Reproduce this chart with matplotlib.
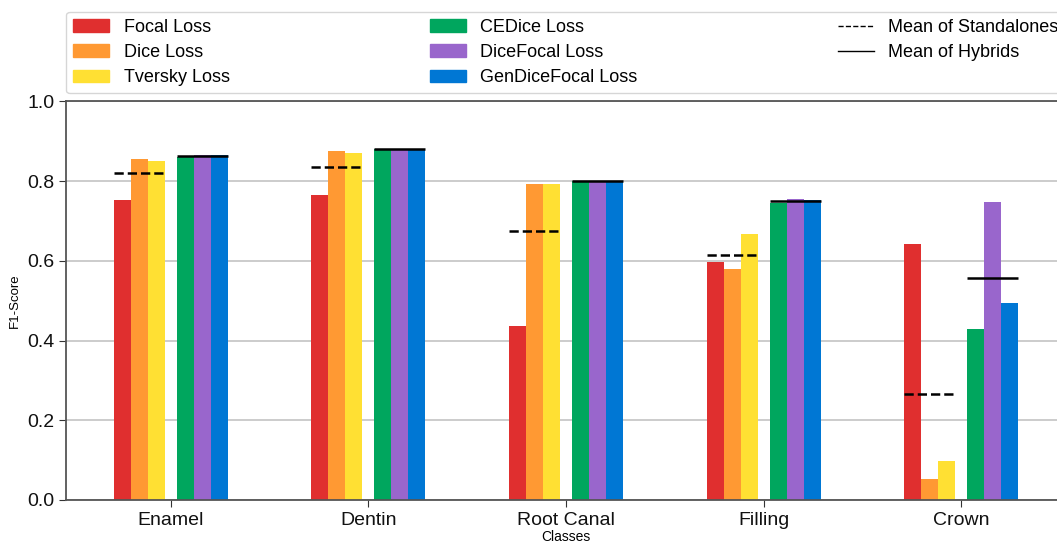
import numpy as np
import matplotlib
matplotlib.use("Agg")
import matplotlib.pyplot as plt
from matplotlib.patches import Patch
from matplotlib.lines import Line2D

plt.rcParams['font.family'] = ['Liberation Sans', 'DejaVu Sans']

classes = ["Enamel", "Dentin", "Root Canal", "Filling", "Crown"]

standalone_names = ["Focal Loss", "Dice Loss", "Tversky Loss"]
hybrid_names = ["CEDice Loss", "DiceFocal Loss", "GenDiceFocal Loss"]

focal = [0.752, 0.764, 0.436, 0.596, 0.643]
dice = [0.856, 0.876, 0.793, 0.579, 0.053]
tversky = [0.851, 0.870, 0.793, 0.668, 0.099]
cedice = [0.861, 0.881, 0.800, 0.745, 0.429]
dicefocal = [0.865, 0.881, 0.800, 0.756, 0.748]
gendicefocal = [0.865, 0.881, 0.800, 0.752, 0.495]

standalone_colors = ["#e02f2f", "#ff9933", "#ffe033"]
hybrid_colors = ["#00a65e", "#9966cc", "#0077d4"]

yticks = [0.0, 0.2, 0.4, 0.6, 0.8, 1.0]

standalones = np.array([focal, dice, tversky])
hybrids = np.array([cedice, dicefocal, gendicefocal])
mean_std = standalones.mean(axis=0)
mean_hyb = hybrids.mean(axis=0)

x = np.arange(len(classes))
w = 0.086
gap = 0.061

fig = plt.figure(figsize=(10.57, 5.43), dpi=100)
ax = fig.add_axes([0.0624, 0.0792, 0.946, 0.734])

for i in range(3):
    off = -gap / 2 - (2.5 - i) * w
    ax.bar(x + off, standalones[i], w, color=standalone_colors[i], zorder=2)
for i in range(3):
    off = gap / 2 + (0.5 + i) * w
    ax.bar(x + off, hybrids[i], w, color=hybrid_colors[i], zorder=2)

# mean markers over each half of the group
ax.hlines(mean_std, x - gap / 2 - 3 * w, x - gap / 2, colors='k',
          linestyles='--', linewidth=1.8, zorder=3)
ax.hlines(mean_hyb, x + gap / 2, x + gap / 2 + 3 * w, colors='k',
          linestyles='-', linewidth=1.8, zorder=3)

ax.set_xlim(-0.53, 4.53)
ax.set_ylim(0, 1.0)
ax.set_yticks(yticks)
ax.set_yticklabels(["%.1f" % t for t in yticks])
ax.set_xticks(x)
ax.set_xticklabels(classes)
ax.tick_params(axis='both', labelsize=14, colors='#333333', labelcolor='#111111',
               length=5)
ax.yaxis.grid(True, color='#c8c8c8', linewidth=1.3)
ax.set_axisbelow(True)
for s in ax.spines.values():
    s.set_color('#555555')
    s.set_linewidth(1.3)

ax.set_ylabel("F1-Score", fontsize=9.5, labelpad=4)
ax.set_xlabel("Classes", fontsize=10, labelpad=1)

handles = [Patch(color=c, label=n) for c, n in zip(standalone_colors, standalone_names)]
handles += [Patch(color=c, label=n) for c, n in zip(hybrid_colors, hybrid_names)]
handles += [Line2D([0], [0], color='k', linestyle='--', linewidth=1, label="Mean of Standalones"),
            Line2D([0], [0], color='k', linestyle='-', linewidth=1, label="Mean of Hybrids")]
leg = ax.legend(handles=handles, ncol=3, mode='expand', loc='lower left',
                bbox_to_anchor=(0, 1.02, 1, 0.2), borderaxespad=0,
                fontsize=13, labelspacing=0.45, frameon=True)
leg.get_frame().set_edgecolor('#cccccc')

fig.savefig("out.png", dpi=100)
